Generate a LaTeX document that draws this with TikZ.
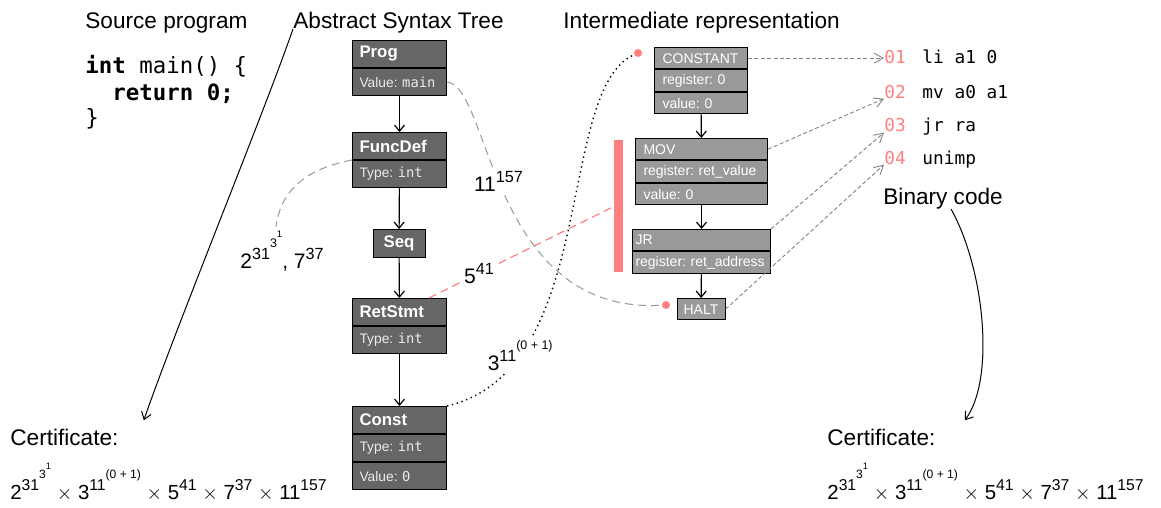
\documentclass[tikz,border=0pt]{standalone}
\usepackage{fontspec}
\setmainfont{Liberation Sans}
\setmonofont{DejaVu Sans Mono}
\usetikzlibrary{positioning, arrows.meta}

\definecolor{astgray}{HTML}{666666}
\definecolor{irgray}{HTML}{999999}
\definecolor{salmon}{HTML}{FF8080}
\definecolor{linkgray}{HTML}{999999}

\frenchspacing
\newcommand{\fsz}[2]{\fontsize{#1}{#2}\selectfont}
\makeatletter
\newcommand{\pw}[3][0.42]{#2\raisebox{#1em}{\fontsize{\fpeval{0.77*\f@size}}{\fpeval{0.9*\f@size}}\selectfont #3}}
\makeatother

\begin{document}
\begin{tikzpicture}[x=0.5pt, y=-0.5pt,
    title/.style={anchor=base west, inner sep=0pt, font=\fsz{11.3}{13}},
    codeline/.style={anchor=base west, inner sep=0pt, font=\ttfamily\fsz{11.2}{13.5}},
    astbox/.style={draw, line width=0.5pt, fill=astgray, text=white, minimum height=13.5pt,
        inner ysep=0pt, inner xsep=3.5pt, text width=40pt, align=left, font=\bfseries\fsz{8.4}{10}},
    astrow/.style={astbox, text=white!92!black, font=\fsz{6.9}{8}},
    irbox/.style={draw, line width=0.5pt, fill=irgray, text=white, minimum height=10.7pt,
        inner ysep=0pt, inner xsep=4pt, text width=#1, align=left, font=\fsz{7}{8.5}},
    bnum/.style={anchor=base west, inner sep=0pt, text=salmon, font=\ttfamily\fsz{8.9}{10}},
    binstr/.style={anchor=base west, inner sep=0pt, font=\ttfamily\fsz{8.9}{10}},
    lbl/.style={inner sep=1pt, font=\fsz{10.5}{12}},
    cert/.style={anchor=base west, inner sep=0pt, font=\fsz{10.2}{12}},
    flow/.style={-{Straight Barb[length=3pt, width=5pt]}, line width=0.6pt},
    emit/.style={-{Straight Barb[length=4.5pt, width=5pt]}, draw=linkgray!85!black,
        dash pattern=on 2pt off 1.2pt, line width=0.45pt},
    pass/.style={-{Straight Barb[length=3.5pt, width=5pt]}, line width=0.5pt},
    link/.style={draw=linkgray, dash pattern=on 4pt off 2.5pt, line width=0.5pt},
    dot/.style={circle, fill=salmon, inner sep=0pt, minimum size=4pt}]

    \useasboundingbox (0,0) rectangle (1161,508);

    \node[title] (srctitle) at (85,29) {Source program};
    \node[title] (asttitle) at (293,29) {Abstract Syntax Tree};
    \node[title] (irtitle) at (563,29) {Intermediate representation};
    \node[title] (bintitle) at (883,204) {Binary code};

    \node[codeline] (code1) at (85,74) {\textbf{int} main() \{};
    \node[codeline] (code2) at (85,101) {\hphantom{in}\textbf{return 0;}};
    \node[codeline] (code3) at (85,126) {\}};

    \begin{scope}
        \node[astbox, anchor=north west] (prog) at (352,40) {Prog};
        \node[astrow, below=0pt of prog] (progval) {Value: \texttt{main}};

        \node[astbox, anchor=north west] (funcdef) at (352,132) {FuncDef};
        \node[astrow, below=0pt of funcdef] (functype) {Type: \texttt{int}};

        \node[astbox, anchor=north, text width=19pt, align=center, minimum height=14pt] (seq) at (399,229) {Seq};

        \node[astbox, anchor=north west] (retstmt) at (352,298) {RetStmt};
        \node[astrow, below=0pt of retstmt] (rettype) {Type: \texttt{int}};

        \node[astbox, anchor=north west] (const) at (352,406) {Const};
        \node[astrow, below=0pt of const] (consttype) {Type: \texttt{int}};
        \node[astrow, below=0pt of consttype] (constval) {Value: \texttt{0}};

        \draw[flow] (progval) -- (funcdef);
        \draw[flow] (functype) -- (seq);
        \draw[flow] (seq) -- (retstmt);
        \draw[flow] (rettype) -- (const);
    \end{scope}

    \begin{scope}
        \node[irbox=38.5pt, anchor=north west] (constant) at (654,47) {CONSTANT};
        \node[irbox=38.5pt, below=0pt of constant] (constantreg) {register: 0};
        \node[irbox=38.5pt, below=0pt of constantreg] (constantval) {value: 0};

        \node[irbox=58pt, anchor=north west] (mov) at (635,138) {MOV};
        \node[irbox=58pt, below=0pt of mov] (movreg) {register: ret\_value};
        \node[irbox=58pt, below=0pt of movreg] (movval) {value: 0};

        \node[irbox=66pt, inner xsep=1.5pt, anchor=north west] (jr) at (632,229) {JR};
        \node[irbox=66pt, inner xsep=1.5pt, below=0pt of jr] (jrreg) {register: ret\_address};

        \node[irbox=18pt, inner xsep=3pt, align=center, anchor=north] (halt) at (701,298) {HALT};

        \draw[flow] (constantval) -- (mov);
        \draw[flow] (movval) -- (jr);
        \draw[flow] (jrreg) -- (halt);

        \node[fill=salmon, inner sep=0pt, minimum width=4.5pt, minimum height=66pt, anchor=north west] (bar) at (614,140) {};
        \node[dot] (dottop) at (638,53) {};
        \node[dot] (dothalt) at (666,305) {};
    \end{scope}

    \foreach \i/\ins/\y in {01/li a1 0/64, 02/mv a0 a1/98, 03/jr ra/132, 04/unimp/164} {
        \node[bnum] (n\i) at (884,\y) {\i};
        \node[binstr] (i\i) at (922,\y) {\ins};
    }

    \draw[emit] (constant.east) -- (constant.east -| n01.west);
    \draw[emit] (mov.east) -- (n02.south west);
    \draw[emit] (jr.north east) -- (n03.south west);
    \draw[emit] (halt.east) -- (n04.south west);

    \node[lbl, anchor=base west, inner sep=0pt] (lblfd) at (240,268) {\pw{2}{\pw[0.75]{31}{\pw[0.75]{3}{1}}}, \pw{7}{37}};

    \draw[link] (funcdef.south west) .. controls (300,170) and (280,195) .. ([xshift=-3pt, yshift=2pt]lblfd.north);
    \draw[link] (progval.east) .. controls (490,85) and (490,315) .. (dothalt)
        node[lbl, pos=0.45, fill=white] (lbl11) {\pw{11}{157}};
    \draw[draw=salmon, dash pattern=on 4pt off 2.5pt, line width=0.6pt] ([xshift=-9pt]retstmt.north east) -- (bar.west)
        node[lbl, pos=0.27, fill=white] (lbl5) {\pw{5}{41}};
    \draw[line width=0.7pt, dash pattern=on 0.7pt off 1.8pt] (const.north east) .. controls (600,370) and (555,90) .. (dottop)
        node[lbl, pos=0.21, fill=white] (lbl3) {\pw{3}{\pw[0.75]{11}{(0 + 1)}}};

    \node[title] (certL) at (10,445) {Certificate:};
    \node[title] (certR) at (827,445) {Certificate:};
    \node[cert] (formL) at (10,499) {\pw{2}{\pw[0.75]{31}{\pw[0.75]{3}{1}}} $\times$ \pw{3}{\pw[0.75]{11}{(0 + 1)}} $\times$ \pw{5}{41} $\times$ \pw{7}{37} $\times$ \pw{11}{157}};
    \node[cert] (formR) at (827,499) {\pw{2}{\pw[0.75]{31}{\pw[0.75]{3}{1}}} $\times$ \pw{3}{\pw[0.75]{11}{(0 + 1)}} $\times$ \pw{5}{41} $\times$ \pw{7}{37} $\times$ \pw{11}{157}};

    \draw[pass] (asttitle.base west) .. controls (265,110) and (175,330) .. ([xshift=12.5pt, yshift=4pt]certL.north east);
    \draw[pass] ([xshift=4pt]bintitle.south) .. controls (985,270) and (995,380) .. ([xshift=14.5pt, yshift=4pt]certR.north east);
\end{tikzpicture}
\end{document}
